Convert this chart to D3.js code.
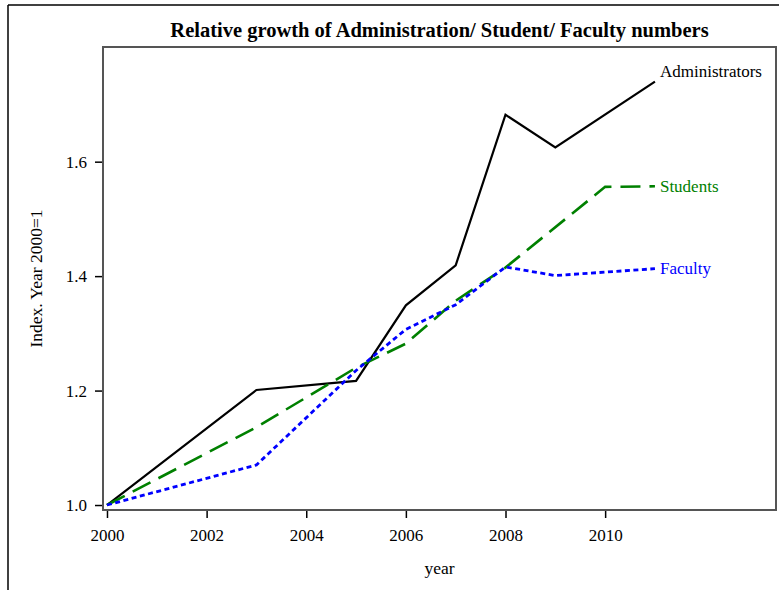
<!DOCTYPE html>
<html>
<head>
<meta charset="utf-8">
<script src="https://cdn.jsdelivr.net/npm/d3@7"></script>
<style>
  body { margin: 0; background: #fff; }
  svg { display: block; }
  text { font-family: "Liberation Serif", "Times New Roman", serif; }
</style>
</head>
<body>
<svg id="chart" width="779" height="590"></svg>
<script>
// ---- data ----
const adminYears   = [2000, 2003, 2005, 2006, 2007, 2008, 2009, 2011];
const adminValues  = [1.000, 1.201, 1.217, 1.349, 1.419, 1.682, 1.625, 1.740];
const studentYears = [2000, 2003, 2005, 2006, 2007, 2008, 2010, 2011];
const studentValues= [1.000, 1.136, 1.240, 1.282, 1.357, 1.415, 1.556, 1.557];
const facultyYears = [2000, 2003, 2005, 2006, 2007, 2008, 2009, 2011];
const facultyValues= [1.000, 1.070, 1.235, 1.307, 1.350, 1.416, 1.401, 1.413];
const seriesNames  = ["Administrators", "Students", "Faculty"];
const xTicks = [2000, 2002, 2004, 2006, 2008, 2010];
const yTicks = [1.0, 1.2, 1.4, 1.6];

const series = [
  {name: seriesNames[0], years: adminYears,   values: adminValues,   color: "#000000", dash: null,      width: 2.2, dy: -10},
  {name: seriesNames[1], years: studentYears, values: studentValues, color: "#008000", dash: "20,9",    width: 2.6, dy: 0},
  {name: seriesNames[2], years: facultyYears, values: facultyValues, color: "#0000ff", dash: "5,3.5",   width: 2.8, dy: 0}
];

const svg = d3.select("#chart");
const pLeft = 103, pRight = 776, pTop = 47, pBottom = 510;
const serif = "'Liberation Serif', 'Times New Roman', serif";

const x = d3.scaleLinear().domain([1999.92, 2013.43]).range([pLeft, pRight]);
const y = d3.scaleLinear().domain([0.9913, 1.8004]).range([pBottom, pTop]);

// outer frame
svg.append("line").attr("x1", 8).attr("x2", 8).attr("y1", 5).attr("y2", 590)
  .attr("stroke", "#000").attr("stroke-width", 1.5);
svg.append("line").attr("x1", 8).attr("x2", 779).attr("y1", 5).attr("y2", 5)
  .attr("stroke", "#000").attr("stroke-width", 1.5);

// title
svg.append("text").attr("x", (pLeft + pRight) / 2).attr("y", 37)
  .attr("text-anchor", "middle").attr("font-size", 20.5).attr("font-weight", "bold")
  .text("Relative growth of Administration/ Student/ Faculty numbers");

// axes
const xAxis = d3.axisBottom(x).tickValues(xTicks).tickFormat(d3.format("d")).tickSize(8).tickSizeOuter(0).tickPadding(0);
const gx = svg.append("g").attr("transform", `translate(0,${pBottom})`).call(xAxis);
gx.attr("font-family", serif);
gx.select(".domain").remove();
gx.selectAll("line").attr("stroke", "#000").attr("stroke-width", 1.5);
gx.selectAll("text").attr("font-size", 17).attr("fill", "#000")
  .attr("dy", null).attr("y", 31).style("font-family", serif);

const yAxis = d3.axisLeft(y).tickValues(yTicks).tickFormat(d3.format(".1f")).tickSize(8).tickSizeOuter(0).tickPadding(8);
const gy = svg.append("g").attr("transform", `translate(${pLeft},0)`).call(yAxis);
gy.attr("font-family", serif);
gy.select(".domain").remove();
gy.selectAll("line").attr("stroke", "#000").attr("stroke-width", 1.5);
gy.selectAll("text").attr("font-size", 17).attr("fill", "#000")
  .style("font-family", serif);

// axis titles
svg.append("text").attr("x", (pLeft + pRight) / 2).attr("y", 574)
  .attr("text-anchor", "middle").attr("font-size", 17.5).text("year");
svg.append("text").attr("transform", `translate(42,${(pTop + pBottom) / 2}) rotate(-90)`)
  .attr("text-anchor", "middle").attr("font-size", 17.5).text("Index. Year 2000=1");

// lines
const line = d3.line().x(d => x(d[0])).y(d => y(d[1]));
series.forEach(s => {
  const pts = s.years.map((yr, i) => [yr, s.values[i]]);
  const p = svg.append("path").datum(pts).attr("d", line)
    .attr("fill", "none").attr("stroke", s.color).attr("stroke-width", s.width)
    .attr("stroke-linejoin", "miter");
  if (s.dash) p.attr("stroke-dasharray", s.dash);
  const last = pts[pts.length - 1];
  svg.append("text").attr("x", x(last[0]) + 5).attr("y", y(last[1]) + s.dy)
    .attr("dominant-baseline", "central").attr("font-size", 17)
    .attr("fill", s.color).text(s.name);
});

// plot frame
svg.append("rect").attr("x", pLeft).attr("y", pTop).attr("width", pRight - pLeft).attr("height", pBottom - pTop)
  .attr("fill", "none").attr("stroke", "#555").attr("stroke-width", 2);
</script>
</body>
</html>
